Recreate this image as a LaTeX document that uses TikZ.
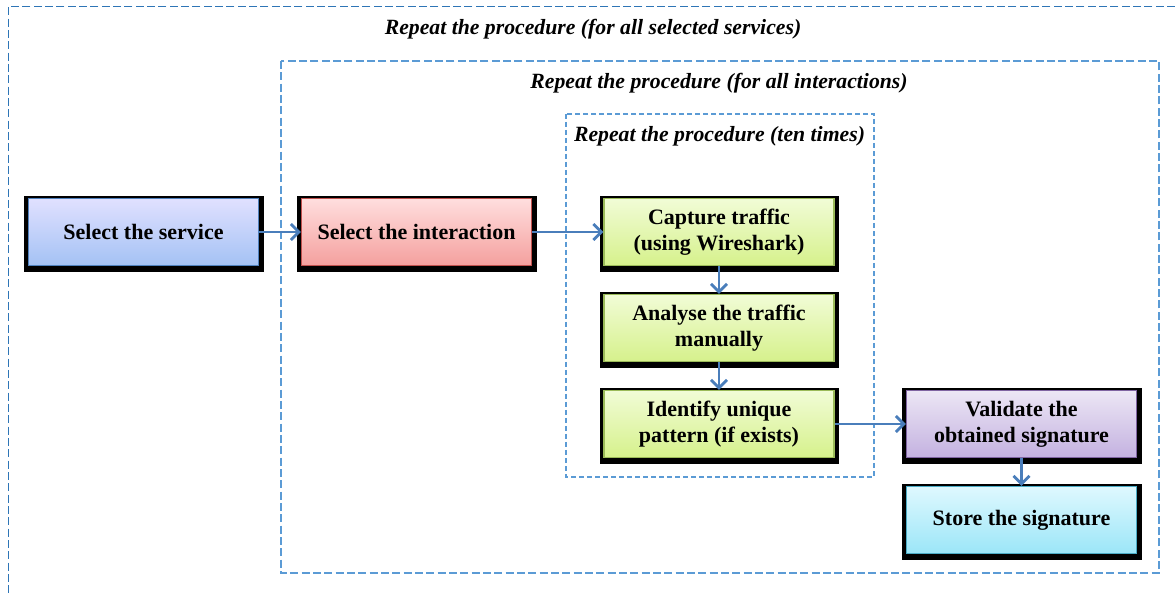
\documentclass[tikz,border=0pt]{standalone}
\usepackage{fontspec}
\setmainfont{Liberation Serif}
\usetikzlibrary{arrows.meta}

\definecolor{loopblue}{RGB}{46,117,182}
\definecolor{looplight}{RGB}{91,155,213}
\definecolor{arrowblue}{RGB}{74,126,187}
\definecolor{blueline}{RGB}{79,129,189}
\definecolor{redline}{RGB}{192,80,77}
\definecolor{greenline}{RGB}{155,187,89}
\definecolor{purpleline}{RGB}{128,100,162}
\definecolor{cyanline}{RGB}{75,172,198}

\tikzset{every picture/.style={line width=0.75pt}}
\tikzset{
  stepbox/.style={draw, line width=1.1pt, minimum width=172.5pt, minimum height=50pt,
    align=center, font=\bfseries\fontsize{16.5}{19.5}\selectfont,
    preaction={draw=black, fill=black, line width=7pt, rounded corners=3.5pt,
      transform canvas={xshift=0.4pt, yshift=-1.5pt}}},
  looptitle/.style={font=\bfseries\itshape\fontsize{16.3}{19}\selectfont},
  flow/.style={draw=arrowblue, line width=2.1pt, -{Straight Barb[length=6pt,width=12pt,line width=2.1pt]}}
}

\begin{document}
\begin{tikzpicture}[x=0.75pt,y=0.75pt,yscale=-1,xscale=1]
\useasboundingbox (0,0) rectangle (1175,595);

%Shape: Loop frames
\draw [draw=loopblue, dash pattern={on 6pt off 2.5pt}] (1175,7) -- (8,7) -- (8,595) ;
\draw [draw=looplight, line width=1pt, dash pattern={on 6pt off 2.5pt}] (281,61) rectangle (1159,573) ;
\draw [draw=looplight, line width=1pt, dash pattern={on 4pt off 2pt}] (566,114) rectangle (874,477) ;

% Text Node
\node [looptitle] (allservices) at (593,29) {Repeat the procedure (for all selected services)};
% Text Node
\node [looptitle] (allinteractions) at (719,83) {Repeat the procedure (for all interactions)};
% Text Node
\node [looptitle] (tentimes) at (719.5,136) {Repeat the procedure (ten times)};

%Shape: Steps
\node [stepbox, draw=blueline, top color=blue!12, bottom color={rgb,255:red,164;green,194;blue,244}] (service) at (143.5,232) {Select the service};
\node [stepbox, draw=redline, top color={rgb,255:red,255;green,222;blue,222}, bottom color={rgb,255:red,244;green,160;blue,158}] (interaction) at (416.5,232) {Select the interaction};
\node [stepbox, draw=greenline, top color={rgb,255:red,241;green,252;blue,214}, bottom color={rgb,255:red,214;green,241;blue,140}] (capture) at (719,232) {Capture traffic\\(using Wireshark)};
\node [stepbox, draw=greenline, top color={rgb,255:red,241;green,252;blue,214}, bottom color={rgb,255:red,214;green,241;blue,140}] (analyse) at (719,328) {Analyse the traffic\\manually};
\node [stepbox, draw=greenline, top color={rgb,255:red,241;green,252;blue,214}, bottom color={rgb,255:red,214;green,241;blue,140}] (identify) at (719,424) {Identify unique\\pattern (if exists)};
\node [stepbox, draw=purpleline, top color={rgb,255:red,236;green,230;blue,245}, bottom color={rgb,255:red,196;green,178;blue,224}] (validate) at (1021.5,424) {Validate the\\obtained signature};
\node [stepbox, draw=cyanline, top color={rgb,255:red,222;green,248;blue,254}, bottom color={rgb,255:red,156;green,230;blue,248}] (store) at (1021.5,520) {Store the signature};

%Straight Lines
\draw [flow] (service) -- (interaction) ;
\draw [flow] (interaction) -- (capture) ;
\draw [flow] (capture) -- (analyse) ;
\draw [flow] (analyse) -- (identify) ;
\draw [flow] (identify) -- (validate) ;
\draw [flow] (validate) -- (store) ;

\end{tikzpicture}
\end{document}
